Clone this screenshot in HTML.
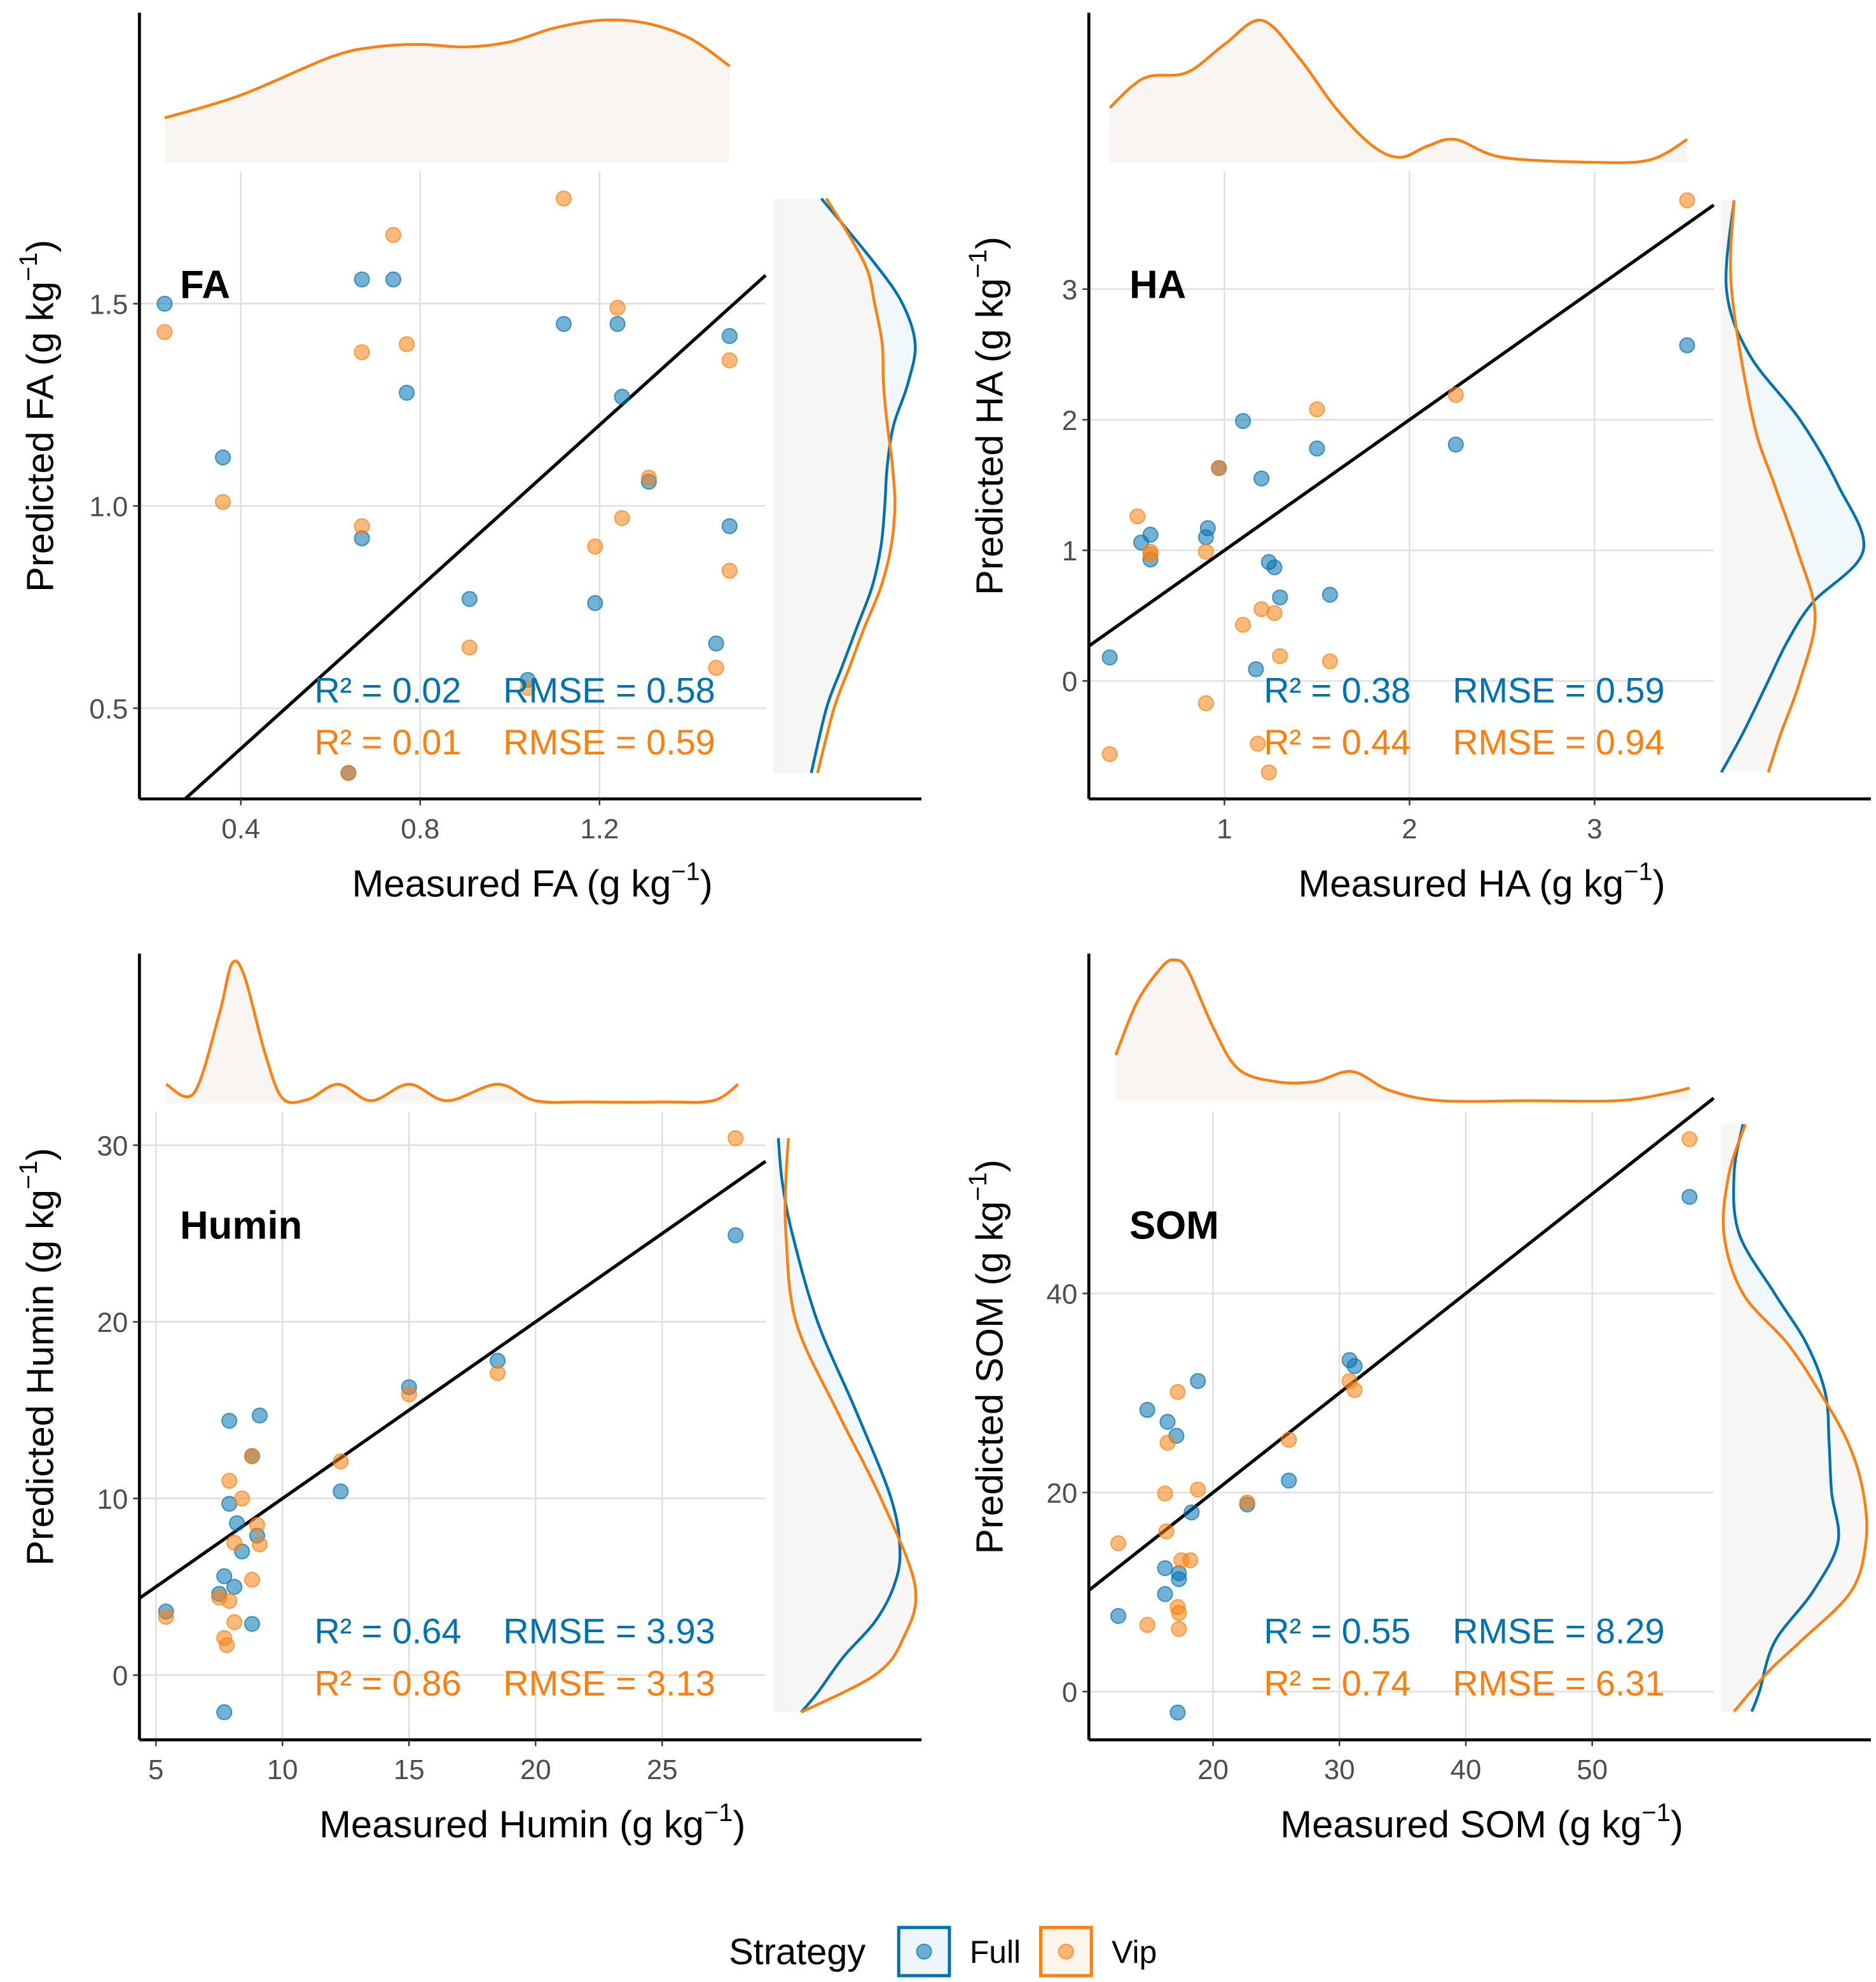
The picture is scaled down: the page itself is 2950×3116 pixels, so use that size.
<!DOCTYPE html>
<html><head><meta charset="utf-8">
<style>
html,body{margin:0;padding:0;background:#fff;}
svg{display:block;}
text{font-family:"Liberation Sans",Arial,sans-serif;}
</style></head>
<body>
<svg id="chart" width="2950" height="3116" viewBox="0 0 1480 1563" preserveAspectRatio="none" xmlns="http://www.w3.org/2000/svg"></svg>
<script>
// ---------- DATA ----------
const faFullX=[0.23,0.36,0.67,0.74,0.77,0.67,0.91,1.04,1.12,1.24,1.25,1.31,1.19,1.46,1.49,1.49,0.64];
const faFullY=[1.50,1.12,1.56,1.56,1.28,0.92,0.77,0.57,1.45,1.45,1.27,1.06,0.76,0.66,1.42,0.95,0.34];
const faVipX=[0.23,0.36,0.67,0.67,0.74,0.77,0.91,1.04,1.12,1.24,1.25,1.19,1.31,1.46,1.49,1.49,0.64];
const faVipY=[1.43,1.01,1.38,0.95,1.67,1.40,0.65,0.55,1.76,1.49,0.97,0.90,1.07,0.60,1.36,0.84,0.34];
const faTopX=[0.23,0.4,0.6,0.7,0.8,0.9,1.0,1.1,1.2,1.3,1.4,1.49];
const faTopD=[35,53,83,91,93,91,95,106,112,110,98,76];
const faRightY=[1.76,1.6,1.5,1.4,1.3,1.2,1.1,1.0,0.9,0.8,0.7,0.6,0.5,0.34];
const faRightFull=[38,80,102,112,106,95,90,88,85,78,66,54,42,30];
const faRightVip=[42,72,80,86,87,90,94,96,93,85,72,60,48,35];
const faXTicks=[0.4,0.8,1.2]; const faXTickLabels=["0.4","0.8","1.2"];
const faYTicks=[0.5,1.0,1.5]; const faYTickLabels=["0.5","1.0","1.5"];
const faStats=["R² = 0.02","RMSE = 0.58","R² = 0.01","RMSE = 0.59"];

const haFullX=[0.38,0.55,0.6,0.6,0.9,0.91,0.97,1.1,1.2,1.24,1.27,1.3,1.17,1.5,1.57,2.25,3.5];
const haFullY=[0.18,1.06,1.12,0.93,1.10,1.17,1.63,1.99,1.55,0.91,0.87,0.64,0.09,1.78,0.66,1.81,2.57];
const haVipX=[0.38,0.53,0.6,0.6,0.9,0.9,0.97,1.1,1.2,1.27,1.3,1.18,1.24,1.5,1.57,2.25,3.5];
const haVipY=[-0.56,1.26,0.99,0.97,0.99,-0.17,1.63,0.43,0.55,0.52,0.19,-0.48,-0.70,2.08,0.15,2.19,3.68];
const haTopX=[0.38,0.5,0.6,0.8,1.0,1.2,1.4,1.6,1.8,1.95,2.1,2.25,2.5,3.0,3.3,3.5];
const haTopD=[43,60,68,71,93,112,83,43,13,4,13,18,4,0,2,18];
const haRightYFull=[3.68,3.0,2.5,2.0,1.5,1.0,0.6,0.3,0,-0.4,-0.7];
const haRightFull=[10,4,22,62,92,112,72,52,37,17,0];
const haRightYVip=[3.68,3.0,2.0,1.5,1.0,0.5,0,-0.4,-0.7];
const haRightVip=[10,8,25,42,60,74,62,47,37];
const haXTicks=[1,2,3]; const haXTickLabels=["1","2","3"];
const haYTicks=[0,1,2,3]; const haYTickLabels=["0","1","2","3"];
const haStats=["R² = 0.38","RMSE = 0.59","R² = 0.44","RMSE = 0.94"];

const huFullX=[5.4,7.5,7.7,7.9,7.9,8.1,8.2,8.4,8.8,8.8,9.0,9.1,12.3,15,18.5,27.9,7.7];
const huFullY=[3.6,4.6,5.6,14.4,9.7,5.0,8.6,7.0,12.4,2.9,7.9,14.7,10.4,16.3,17.8,24.9,-2.1];
const huVipX=[5.4,7.5,7.7,7.8,7.9,7.9,8.1,8.1,8.4,8.8,8.8,9.0,9.1,12.3,15,18.5,27.9];
const huVipY=[3.3,4.4,2.1,1.7,11.0,4.2,3.0,7.5,10.0,12.4,5.4,8.5,7.4,12.1,15.9,17.1,30.4];
const huTopX=[5.4,6.5,7.5,8.0,8.5,9.3,10,11,12.2,13.5,15,16.5,18.5,20,22,25,27,28];
const huTopD=[15,8,70,110,100,40,4,3,15,2,15,2,15,2,1,1,2,15];
const huRightYFull=[30.4,28,25,20,15,10,7,5,3,1,-1,-2.1];
const huRightFull=[4,7,15,35,65,93,100,95,80,55,35,22];
const huRightYVip=[30.4,28,25,20,15,10,5,2,0,-2.1];
const huRightVip=[12,10,10,18,50,85,112,102,80,22];
const huXTicks=[5,10,15,20,25]; const huXTickLabels=["5","10","15","20","25"];
const huYTicks=[0,10,20,30]; const huYTickLabels=["0","10","20","30"];
const huStats=["R² = 0.64","RMSE = 3.93","R² = 0.86","RMSE = 3.13"];

const soFullX=[12.5,14.8,16.2,16.2,16.4,17.1,17.3,17.3,17.2,18.3,18.8,22.7,26,30.8,31.2,57.7];
const soFullY=[7.6,28.3,12.4,9.8,27.1,25.7,11.9,11.3,-2.1,18.0,31.2,18.8,21.2,33.3,32.7,49.7];
const soVipX=[12.5,14.8,16.2,16.4,16.3,17.2,17.2,17.3,17.3,17.5,18.2,18.8,22.7,26,30.8,31.2,57.7];
const soVipY=[14.9,6.7,19.9,25.0,16.1,30.1,8.5,7.9,6.3,13.2,13.2,20.3,19.0,25.3,31.2,30.3,55.5];
const soTopX=[12.3,14,16,17,18,20,22,25,28,31,34,38,45,52,56,57.7];
const soTopD=[36,78,106,111,103,58,25,15,15,23,8,0,0,0,6,10];
const soRightYFull=[57,52,46,40,35,30,25,20,15,10,5,0,-2];
const soRightFull=[17,10,14,42,67,82,85,87,92,72,42,30,24];
const soRightYVip=[57,52,46,40,35,30,25,20,15,10,5,2,-2];
const soRightVip=[19,6,2,17,52,78,100,112,114,102,62,37,10];
const soXTicks=[20,30,40,50]; const soXTickLabels=["20","30","40","50"];
const soYTicks=[0,20,40]; const soYTickLabels=["0","20","40"];
const soStats=["R² = 0.55","RMSE = 8.29","R² = 0.74","RMSE = 6.31"];

// ---------- DRAW ----------
const NS="http://www.w3.org/2000/svg";
const svg=document.getElementById('chart');
const BLUE="#0072B2", ORANGE="#FF7F0E";
function mk(tag,attrs,parent){const e=document.createElementNS(NS,tag);for(const k in attrs)e.setAttribute(k,attrs[k]);(parent||svg).appendChild(e);return e;}
function smooth(pts){let d="M"+pts[0][0]+","+pts[0][1];for(let i=0;i<pts.length-1;i++){const p0=pts[Math.max(0,i-1)],p1=pts[i],p2=pts[i+1],p3=pts[Math.min(pts.length-1,i+2)];const c1=[p1[0]+(p2[0]-p0[0])/6,p1[1]+(p2[1]-p0[1])/6],c2=[p2[0]-(p3[0]-p1[0])/6,p2[1]-(p3[1]-p1[1])/6];d+=" C"+c1[0].toFixed(1)+","+c1[1].toFixed(1)+" "+c2[0].toFixed(1)+","+c2[1].toFixed(1)+" "+p2[0].toFixed(1)+","+p2[1].toFixed(1);}return d;}

function panel(c){
  const g=mk('g',{});
  
  
  const sx=v=>c.x0px+(v-c.x0v)*c.kx, sy=v=>c.y0py-(v-c.y0v)*c.ky;
  c.xt.forEach((t,i)=>{const l=mk('line',{x1:sx(t),x2:sx(t),y1:c.gridTop,y2:c.bottom,stroke:"#dedede","stroke-width":1.2},g);
    });
  c.yt.forEach((t,i)=>{const l=mk('line',{x1:c.left,x2:c.gridRight,y1:sy(t),y2:sy(t),stroke:"#dedede","stroke-width":1.2},g);
    });
  const tb=c.topBase, tp=c.topX.map((v,i)=>[sx(v),tb-c.topD[i]]);
  const tpath=smooth(tp);
  const tf=mk('path',{d:tpath+" L"+tp[tp.length-1][0]+","+tb+" L"+tp[0][0]+","+tb+" Z",fill:"#f8f5f2",stroke:"none"},g);
  
  const tl=mk('path',{d:tpath,fill:"none",stroke:ORANGE,"stroke-width":2.2},g);
  
  const rb=c.rightBase;
  const rp1=c.ryF.map((v,i)=>[rb+c.rF[i],sy(v)]), rp2=c.ryV.map((v,i)=>[rb+c.rV[i],sy(v)]);
  const ytop=Math.min(rp1[0][1],rp2[0][1]), ybot=Math.max(rp1[rp1.length-1][1],rp2[rp2.length-1][1]);
  mk('rect',{x:rb,y:ytop,width:6,height:ybot-ytop,fill:"#f8f5f2"},g);
  [[rp1,"#eef6fb",'right-density-full'],[rp2,"#f8f5f2",'right-density-vip']].forEach(([pts,fc,nm])=>{
    const d=smooth(pts);
    const f=mk('path',{d:d+" L"+rb+","+pts[pts.length-1][1]+" L"+rb+","+pts[0][1]+" Z",fill:fc,"fill-opacity":0.8},g);
    
  });
  [[rp1,BLUE,'right-density-full'],[rp2,ORANGE,'right-density-vip']].forEach(([pts,col,nm])=>{
    const l=mk('path',{d:smooth(pts),fill:"none",stroke:col,"stroke-width":2.2},g);
    
  });
  // 1:1 line clipped to panel
  let xa=(c.left-c.x0px)/c.kx+c.x0v;
  const yBottomVal=c.y0v+(c.y0py-c.bottom)/c.ky;
  if(xa<yBottomVal) xa=yBottomVal;
  const xb=(c.gridRight-c.x0px)/c.kx+c.x0v;
  const ol=mk('line',{x1:sx(xa),y1:sy(xa),x2:c.gridRight,y2:sy(xb),stroke:"#000","stroke-width":2.6},g);
  
  [[c.fx,c.fy,BLUE,'point-full'],[c.vx,c.vy,ORANGE,'point-vip']].forEach(([xs,ys,col,nm])=>{
    xs.forEach((v,i)=>{const p=mk('circle',{cx:sx(v),cy:sy(ys[i]),r:5.8,fill:col,"fill-opacity":0.55,stroke:col,"stroke-opacity":0.7,"stroke-width":1},g);
      });
  });
  const ay=mk('line',{x1:c.left,x2:c.left,y1:c.axisTop,y2:c.bottom,stroke:"#000","stroke-width":2.4},g);
  
  const ax=mk('line',{x1:c.left,x2:c.left+617,y1:c.bottom,y2:c.bottom,stroke:"#000","stroke-width":2.4},g);
  
  c.xt.forEach((t,i)=>{mk('line',{x1:sx(t),x2:sx(t),y1:c.bottom,y2:c.bottom+5,stroke:"#333","stroke-width":1.2},g);
    const tx=mk('text',{x:sx(t),y:c.bottom+31,"text-anchor":"middle","font-size":22,fill:"#4d4d4d"},g);tx.textContent=c.xtl[i];
    });
  c.yt.forEach((t,i)=>{mk('line',{x1:c.left-5,x2:c.left,y1:sy(t),y2:sy(t),stroke:"#333","stroke-width":1.2},g);
    const tx=mk('text',{x:c.left-9,y:sy(t)+8,"text-anchor":"end","font-size":22,fill:"#4d4d4d"},g);tx.textContent=c.ytl[i];
    });
  const xtit=mk('text',{x:c.left+310,y:c.bottom+77,"text-anchor":"middle","font-size":30,fill:"#000"},g);
  xtit.innerHTML='Measured '+c.label+' (g kg<tspan dy="-13" font-size="20">−1</tspan><tspan dy="13">)</tspan>';
  
  const cy=(c.axisTop+c.bottom)/2+8;
  const ytit=mk('text',{x:0,y:0,"text-anchor":"middle","font-size":30,fill:"#000",transform:"translate("+(c.left-68)+","+cy+") rotate(-90)"},g);
  ytit.innerHTML='Predicted '+c.label+' (g kg<tspan dy="-13" font-size="20">−1</tspan><tspan dy="13">)</tspan>';
  
  const pl=mk('text',{x:c.left+32,y:c.labelY,"font-size":31,"font-weight":"bold",fill:"#000"},g);pl.textContent=c.label;
  
  [[0,c.bottom-76,BLUE],[2,c.bottom-35,ORANGE]].forEach(([k,y,col])=>{
    const a=mk('text',{x:c.left+138,y:y,"font-size":28,fill:col},g);a.textContent=c.stats[k];
    
    const b=mk('text',{x:c.left+287,y:y,"font-size":28,fill:col},g);b.textContent=c.stats[k+1];
    
  });
}

panel({name:'fa',label:'FA',left:110,bottom:630,axisTop:10,gridTop:135,gridRight:604,topBase:128,rightBase:610,labelY:235,
  x0v:0.4,x0px:190,kx:353.75,y0v:1.0,y0py:399,ky:319,xt:faXTicks,xtl:faXTickLabels,yt:faYTicks,ytl:faYTickLabels,
  fx:faFullX,fy:faFullY,vx:faVipX,vy:faVipY,topX:faTopX,topD:faTopD,ryF:faRightY,rF:faRightFull,ryV:faRightY,rV:faRightVip,stats:faStats});
panel({name:'ha',label:'HA',left:859,bottom:630,axisTop:10,gridTop:135,gridRight:1352,topBase:128,rightBase:1358,labelY:235,
  x0v:1,x0px:966,kx:146,y0v:0,y0py:537,ky:103,xt:haXTicks,xtl:haXTickLabels,yt:haYTicks,ytl:haYTickLabels,
  fx:haFullX,fy:haFullY,vx:haVipX,vy:haVipY,topX:haTopX,topD:haTopD,ryF:haRightYFull,rF:haRightFull,ryV:haRightYVip,rV:haRightVip,stats:haStats});
panel({name:'humin',label:'Humin',left:110,bottom:1372,axisTop:752,gridTop:877,gridRight:604,topBase:870,rightBase:610,labelY:977,
  x0v:5,x0px:123,kx:19.97,y0v:0,y0py:1321,ky:13.93,xt:huXTicks,xtl:huXTickLabels,yt:huYTicks,ytl:huYTickLabels,
  fx:huFullX,fy:huFullY,vx:huVipX,vy:huVipY,topX:huTopX,topD:huTopD,ryF:huRightYFull,rF:huRightFull,ryV:huRightYVip,rV:huRightVip,stats:huStats});
panel({name:'som',label:'SOM',left:859,bottom:1372,axisTop:752,gridTop:877,gridRight:1352,topBase:868,rightBase:1358,labelY:977,
  x0v:20,x0px:957,kx:9.97,y0v:0,y0py:1334,ky:7.85,xt:soXTicks,xtl:soXTickLabels,yt:soYTicks,ytl:soYTickLabels,
  fx:soFullX,fy:soFullY,vx:soVipX,vy:soVipY,topX:soTopX,topD:soTopD,ryF:soRightYFull,rF:soRightFull,ryV:soRightYVip,rV:soRightVip,stats:soStats});

const lg=mk('g',{});


const lt=mk('text',{x:575,y:1549,"font-size":29,fill:"#000"},lg);lt.textContent="Strategy";

[[709,BLUE,"#eef6fb","Full",765,'legend-entry-full'],[821,ORANGE,"#fdf4ec","Vip",877,'legend-entry-vip']].forEach(([x,col,fc,lab,tx,nm])=>{
  const e=mk('g',{},lg);
  
  
  mk('rect',{x:x,y:1520,width:40,height:38,fill:fc,stroke:col,"stroke-width":2.5},e);
  mk('circle',{cx:x+20,cy:1539,r:5.8,fill:col,"fill-opacity":0.55,stroke:col,"stroke-opacity":0.7},e);
  const t=mk('text',{x:tx,y:1548,"font-size":25,fill:"#000"},e);t.textContent=lab;
});
</script>
</body></html>
